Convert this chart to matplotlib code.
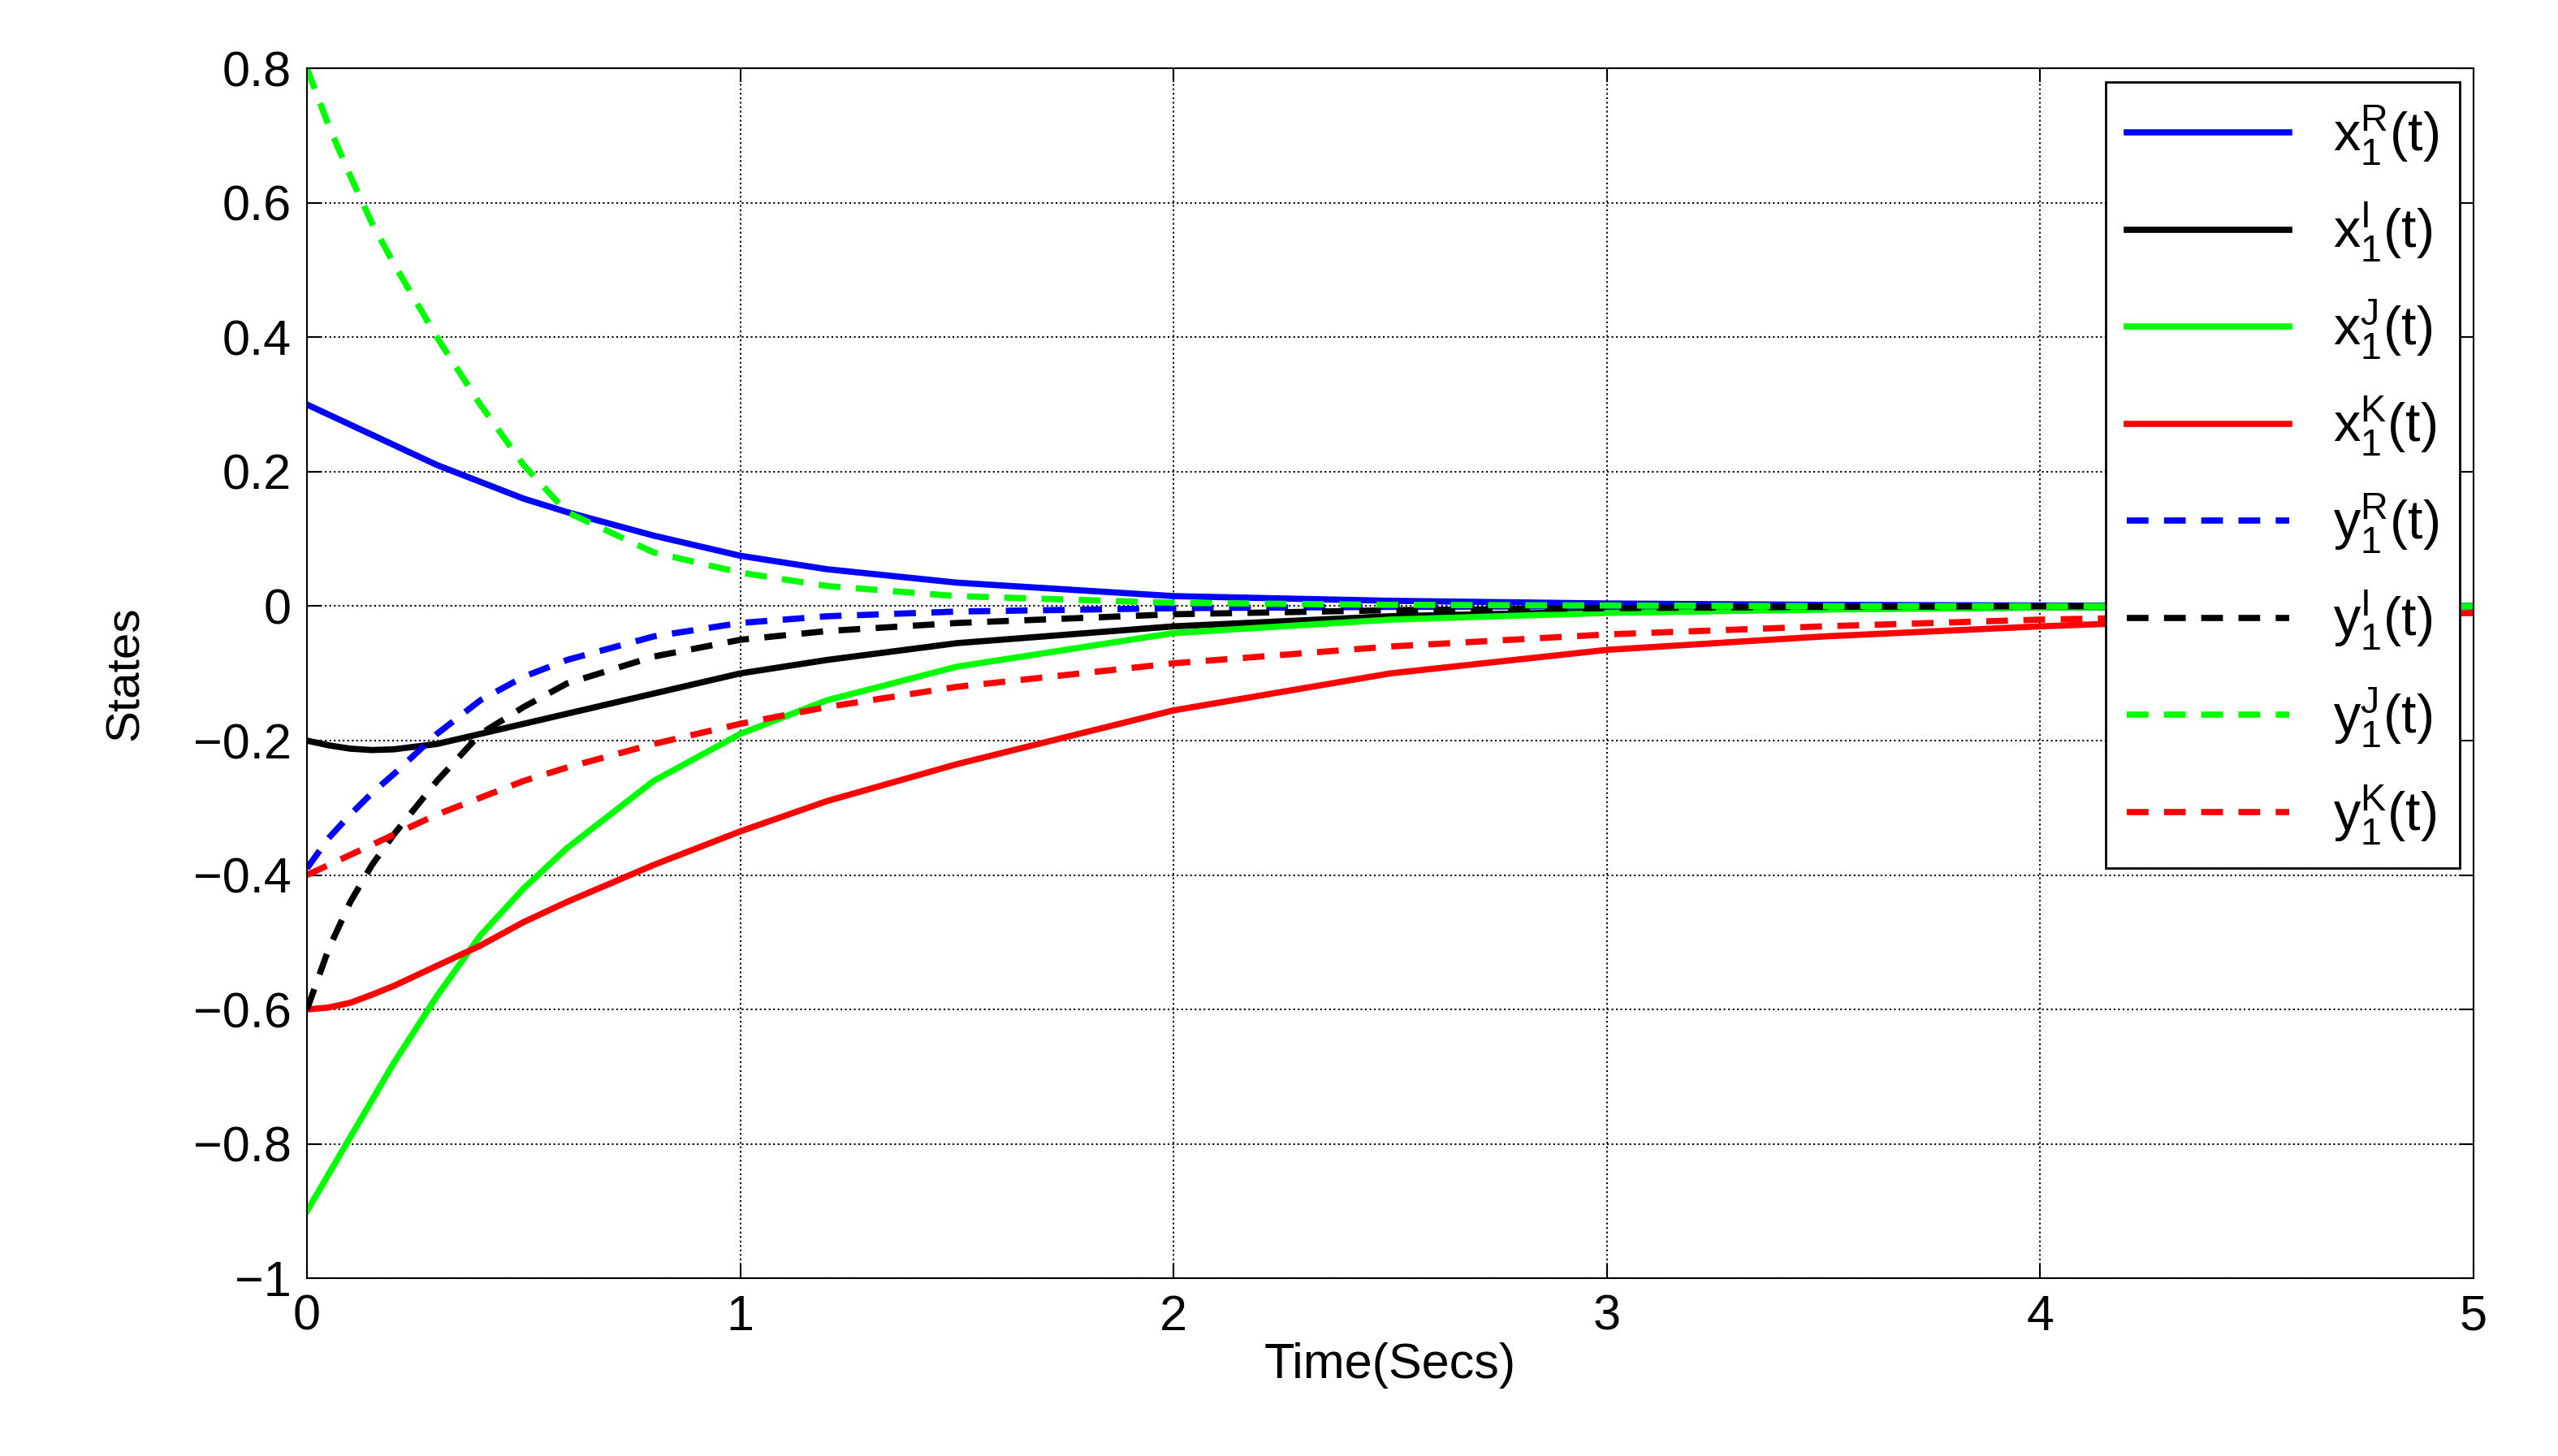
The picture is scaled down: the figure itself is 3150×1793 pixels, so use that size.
import matplotlib
matplotlib.use("Agg")
import matplotlib.pyplot as plt

t = [0,0.05,0.1,0.15,0.2,0.3,0.4,0.5,0.6,0.8,1.0,1.2,1.5,2.0,2.5,3.0,3.5,4.0,4.5,5.0]
xR = [0.30,0.285,0.27,0.255,0.24,0.21,0.185,0.16,0.14,0.105,0.075,0.055,0.035,0.015,0.008,0.004,0.002,0.001,0.0,0.0]
xI = [-0.20,-0.207,-0.212,-0.214,-0.213,-0.205,-0.19,-0.175,-0.16,-0.13,-0.10,-0.08,-0.055,-0.03,-0.015,-0.008,-0.004,-0.002,-0.001,0.0]
xJ = [-0.90,-0.845,-0.79,-0.735,-0.68,-0.58,-0.49,-0.42,-0.36,-0.26,-0.19,-0.14,-0.09,-0.04,-0.02,-0.01,-0.005,-0.002,-0.001,0.0]
xK = [-0.60,-0.597,-0.59,-0.578,-0.565,-0.535,-0.505,-0.47,-0.44,-0.385,-0.335,-0.29,-0.235,-0.155,-0.10,-0.065,-0.045,-0.03,-0.018,-0.01]
yR = [-0.39,-0.345,-0.31,-0.278,-0.25,-0.19,-0.14,-0.105,-0.08,-0.045,-0.025,-0.015,-0.008,-0.003,-0.001,0.0,0.0,0.0,0.0,0.0]
yI = [-0.60,-0.51,-0.44,-0.385,-0.34,-0.26,-0.19,-0.15,-0.115,-0.075,-0.05,-0.037,-0.025,-0.012,-0.006,-0.003,-0.001,0.0,0.0,0.0]
yJ = [0.80,0.715,0.64,0.57,0.51,0.40,0.30,0.21,0.14,0.08,0.05,0.03,0.015,0.005,0.002,0.001,0.0,0.0,0.0,0.0]
yK = [-0.40,-0.385,-0.37,-0.355,-0.34,-0.31,-0.285,-0.26,-0.24,-0.205,-0.175,-0.15,-0.12,-0.085,-0.06,-0.042,-0.03,-0.02,-0.014,-0.01]

plt.rcParams['font.family'] = ['Liberation Sans', 'DejaVu Sans']
fig = plt.figure(figsize=(31.5, 17.93), dpi=100)
ax = fig.add_axes([0.120, 0.122, 0.847, 0.831])
lw = 5.5
series = [(xR, 'b', '-', r'$\mathregular{x_1^R(t)}$'),
          (xI, 'k', '-', r'$\mathregular{x_1^I(t)}$'),
          (xJ, '#00ff00', '-', r'$\mathregular{x_1^J(t)}$'),
          (xK, 'r', '-', r'$\mathregular{x_1^K(t)}$'),
          (yR, 'b', '--', r'$\mathregular{y_1^R(t)}$'),
          (yI, 'k', '--', r'$\mathregular{y_1^I(t)}$'),
          (yJ, '#00ff00', '--', r'$\mathregular{y_1^J(t)}$'),
          (yK, 'r', '--', r'$\mathregular{y_1^K(t)}$')]
for v, c, ls, lab in series:
    if ls == '--':
        ax.plot(t, v, color=c, lw=lw, label=lab, dashes=(3.5, 2.5))
    else:
        ax.plot(t, v, color=c, lw=lw, label=lab)
ax.set_xlim(0, 5)
ax.set_ylim(-1, 0.8)
ax.set_xticks([0,1,2,3,4,5])
ax.set_yticks([-1,-0.8,-0.6,-0.4,-0.2,0,0.2,0.4,0.6,0.8])
ax.set_yticklabels(['\u22121','\u22120.8','\u22120.6','\u22120.4','\u22120.2','0','0.2','0.4','0.6','0.8'])
ax.grid(True, color='k', ls=':', lw=1.5)
ax.tick_params(labelsize=44, direction='in', length=12, width=1.5, top=True, right=True, pad=14)
for s in ax.spines.values():
    s.set_linewidth(1.5)
ax.set_xlabel('Time(Secs)', fontsize=44, labelpad=2)
ax.set_ylabel('States', fontsize=42, labelpad=40)
leg = ax.legend(loc='upper right', fontsize=48, fancybox=False, edgecolor='k',
                handlelength=3.0, borderaxespad=0.25, labelspacing=0.62, framealpha=1)
leg.get_frame().set_linewidth(2)
fig.savefig('out.png', dpi=100)
